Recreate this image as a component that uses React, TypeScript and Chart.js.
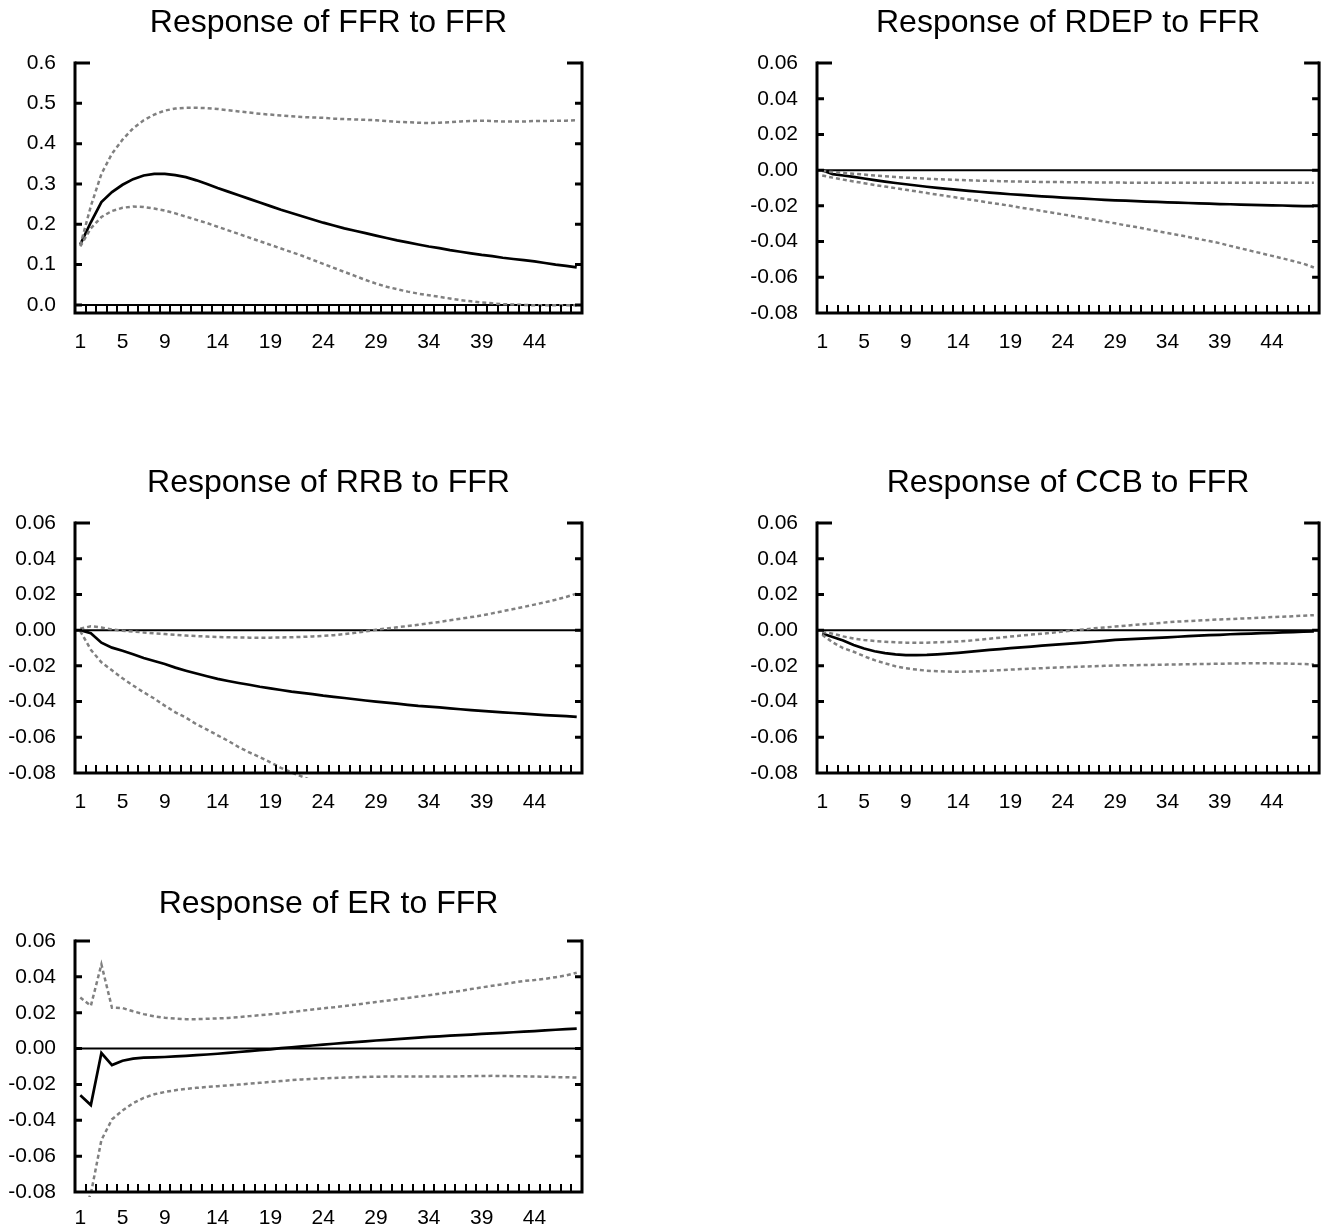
import React, { useEffect, useRef } from 'react';
import { Chart, registerables } from 'chart.js';

Chart.register(...registerables);

// ---------- data ----------
const periodLabels = [
  '1', '2', '3', '4', '5', '6', '7', '8', '9', '10', '11', '12', '13', '14', '15', '16',
  '17', '18', '19', '20', '21', '22', '23', '24', '25', '26', '27', '28', '29', '30', '31', '32',
  '33', '34', '35', '36', '37', '38', '39', '40', '41', '42', '43', '44', '45', '46', '47', '48',
];
const shownPeriods = ['1', '5', '9', '14', '19', '24', '29', '34', '39', '44'];

const ffrTicks = [0, 0.1, 0.2, 0.3, 0.4, 0.5, 0.6];
const smallTicks = [-0.08, -0.06, -0.04, -0.02, 0, 0.02, 0.04, 0.06];

const ffrResp = [
  0.150, 0.205, 0.255, 0.280, 0.298, 0.312, 0.321, 0.325, 0.325, 0.322,
  0.317, 0.309, 0.300, 0.290, 0.281, 0.272, 0.263, 0.254, 0.245, 0.236,
  0.228, 0.220, 0.212, 0.204, 0.197, 0.190, 0.184, 0.178, 0.172, 0.166,
  0.160, 0.155, 0.150, 0.145, 0.141, 0.136, 0.132, 0.128, 0.124, 0.121,
  0.117, 0.114, 0.111, 0.108, 0.104, 0.100, 0.097, 0.093,
];
const ffrUpper = [
  0.148, 0.245, 0.325, 0.375, 0.410, 0.438, 0.458, 0.472, 0.482, 0.487,
  0.489, 0.489, 0.488, 0.486, 0.483, 0.480, 0.477, 0.474, 0.472, 0.470,
  0.468, 0.466, 0.465, 0.464, 0.462, 0.461, 0.460, 0.459, 0.458, 0.456,
  0.454, 0.453, 0.452, 0.451, 0.452, 0.453, 0.455, 0.456, 0.457, 0.456,
  0.455, 0.455, 0.455, 0.456, 0.456, 0.457, 0.457, 0.458,
];
const ffrLower = [
  0.145, 0.190, 0.218, 0.233, 0.241, 0.244, 0.243, 0.239, 0.234, 0.227,
  0.219, 0.211, 0.203, 0.194, 0.185, 0.176, 0.167, 0.158, 0.149, 0.140,
  0.131, 0.122, 0.112, 0.102, 0.092, 0.082, 0.072, 0.062, 0.053, 0.045,
  0.039, 0.033, 0.028, 0.024, 0.020, 0.016, 0.012, 0.009, 0.006, 0.004,
  0.002, 0.001, 0.000, -0.001, -0.001, -0.001, -0.001, -0.001,
];

const rdepResp = [
  0.0000, -0.0022, -0.0030, -0.0038, -0.0047, -0.0056, -0.0064, -0.0072, -0.0079, -0.0086,
  -0.0093, -0.0099, -0.0105, -0.0111, -0.0116, -0.0121, -0.0126, -0.0130, -0.0135, -0.0139,
  -0.0143, -0.0147, -0.0150, -0.0154, -0.0157, -0.0160, -0.0163, -0.0166, -0.0169, -0.0171,
  -0.0174, -0.0176, -0.0178, -0.0180, -0.0182, -0.0184, -0.0186, -0.0188, -0.0190, -0.0191,
  -0.0193, -0.0194, -0.0196, -0.0197, -0.0198, -0.0200, -0.0201, -0.0202,
];
const rdepUpper = [
  -0.0005, -0.0010, -0.0015, -0.0020, -0.0025, -0.0030, -0.0034, -0.0038, -0.0042, -0.0045,
  -0.0048, -0.0051, -0.0053, -0.0055, -0.0057, -0.0059, -0.0060, -0.0062, -0.0063, -0.0064,
  -0.0065, -0.0066, -0.0067, -0.0067, -0.0068, -0.0068, -0.0069, -0.0069, -0.0069, -0.0070,
  -0.0070, -0.0070, -0.0070, -0.0070, -0.0071, -0.0071, -0.0071, -0.0071, -0.0071, -0.0071,
  -0.0071, -0.0071, -0.0071, -0.0071, -0.0071, -0.0071, -0.0071, -0.0071,
];
const rdepLower = [
  -0.0030, -0.0042, -0.0053, -0.0063, -0.0073, -0.0083, -0.0092, -0.0101, -0.0110, -0.0119,
  -0.0128, -0.0137, -0.0146, -0.0155, -0.0164, -0.0173, -0.0182, -0.0191, -0.0200, -0.0210,
  -0.0219, -0.0229, -0.0238, -0.0248, -0.0258, -0.0268, -0.0278, -0.0288, -0.0298, -0.0309,
  -0.0319, -0.0330, -0.0341, -0.0352, -0.0363, -0.0374, -0.0386, -0.0397, -0.0409, -0.0424,
  -0.0438, -0.0452, -0.0466, -0.0480, -0.0494, -0.0509, -0.0524, -0.0545,
];

const rrbResp = [
  0.0000, -0.0017, -0.0070, -0.0098, -0.0115, -0.0135, -0.0156, -0.0173, -0.0190, -0.0210,
  -0.0227, -0.0243, -0.0258, -0.0273, -0.0285, -0.0296, -0.0306, -0.0317, -0.0326, -0.0335,
  -0.0344, -0.0351, -0.0358, -0.0367, -0.0374, -0.0380, -0.0387, -0.0394, -0.0400, -0.0406,
  -0.0412, -0.0418, -0.0424, -0.0428, -0.0433, -0.0438, -0.0443, -0.0448, -0.0452, -0.0456,
  -0.0460, -0.0464, -0.0468, -0.0472, -0.0476, -0.0479, -0.0482, -0.0486,
];
const rrbUpper = [
  0.0008, 0.0022, 0.0015, 0.0004, -0.0003, -0.0008, -0.0013, -0.0018, -0.0022, -0.0026,
  -0.0030, -0.0033, -0.0036, -0.0038, -0.0040, -0.0041, -0.0042, -0.0042, -0.0042, -0.0041,
  -0.0040, -0.0038, -0.0035, -0.0032, -0.0028, -0.0022, -0.0015, -0.0007, 0.0002, 0.0009,
  0.0016, 0.0023, 0.0030, 0.0038, 0.0046, 0.0055, 0.0064, 0.0073, 0.0082, 0.0094,
  0.0106, 0.0118, 0.0130, 0.0143, 0.0156, 0.0170, 0.0186, 0.0205,
];
const rrbLower = [
  -0.0005, -0.0110, -0.0180, -0.0225, -0.0270, -0.0310, -0.0348, -0.0383, -0.0423, -0.0460,
  -0.0490, -0.0527, -0.0557, -0.0589, -0.0620, -0.0655, -0.0685, -0.0711, -0.0740, -0.0771,
  -0.0797, -0.0820, -0.0845, -0.0868, -0.0893, -0.0915, -0.0940, -0.0962, -0.0985, -0.1006,
  -0.1028, -0.1049, -0.1070, -0.1090, -0.1111, -0.1130, -0.1150, -0.1169, -0.1188, -0.1206,
  -0.1225, -0.1243, -0.1260, -0.1278, -0.1295, -0.1312, -0.1329, -0.1345,
];

const ccbResp = [
  -0.0019, -0.0038, -0.0058, -0.0083, -0.0103, -0.0118, -0.0129, -0.0136, -0.0140, -0.0140,
  -0.0139, -0.0136, -0.0132, -0.0127, -0.0122, -0.0116, -0.0111, -0.0106, -0.0101, -0.0097,
  -0.0092, -0.0087, -0.0082, -0.0078, -0.0074, -0.0070, -0.0065, -0.0060, -0.0055, -0.0052,
  -0.0049, -0.0046, -0.0043, -0.0040, -0.0037, -0.0034, -0.0031, -0.0028, -0.0026, -0.0023,
  -0.0021, -0.0019, -0.0017, -0.0015, -0.0013, -0.0011, -0.0009, -0.0007,
];
const ccbUpper = [
  -0.0010, -0.0020, -0.0035, -0.0047, -0.0055, -0.0061, -0.0065, -0.0068, -0.0070, -0.0071,
  -0.0070, -0.0068, -0.0066, -0.0063, -0.0059, -0.0054, -0.0048, -0.0042, -0.0036, -0.0030,
  -0.0025, -0.0020, -0.0014, -0.0008, -0.0002, 0.0004, 0.0010, 0.0015, 0.0020, 0.0025,
  0.0030, 0.0035, 0.0039, 0.0044, 0.0048, 0.0051, 0.0054, 0.0057, 0.0060, 0.0062,
  0.0065, 0.0067, 0.0070, 0.0073, 0.0075, 0.0078, 0.0081, 0.0084,
];
const ccbLower = [
  -0.0026, -0.0068, -0.0101, -0.0121, -0.0146, -0.0168, -0.0186, -0.0202, -0.0214, -0.0221,
  -0.0227, -0.0230, -0.0232, -0.0233, -0.0232, -0.0230, -0.0227, -0.0224, -0.0221, -0.0218,
  -0.0215, -0.0213, -0.0210, -0.0208, -0.0206, -0.0204, -0.0202, -0.0200, -0.0198, -0.0197,
  -0.0196, -0.0195, -0.0194, -0.0193, -0.0192, -0.0191, -0.0190, -0.0189, -0.0188, -0.0187,
  -0.0186, -0.0186, -0.0186, -0.0186, -0.0187, -0.0188, -0.0190, -0.0192,
];

const erResp = [
  -0.0260, -0.0315, -0.0025, -0.0092, -0.0068, -0.0056, -0.0051, -0.0049, -0.0047, -0.0044,
  -0.0041, -0.0037, -0.0033, -0.0029, -0.0024, -0.0019, -0.0014, -0.0009, -0.0004, 0.0002,
  0.0007, 0.0012, 0.0017, 0.0022, 0.0027, 0.0032, 0.0036, 0.0040, 0.0045, 0.0049,
  0.0053, 0.0057, 0.0061, 0.0065, 0.0068, 0.0072, 0.0075, 0.0078, 0.0082, 0.0085,
  0.0088, 0.0091, 0.0094, 0.0097, 0.0101, 0.0105, 0.0108, 0.0111,
];
const erUpper = [
  0.0285, 0.0238, 0.0470, 0.0228, 0.0226, 0.0208, 0.0192, 0.0180, 0.0172, 0.0167,
  0.0164, 0.0164, 0.0166, 0.0168, 0.0171, 0.0175, 0.0181, 0.0186, 0.0191, 0.0197,
  0.0204, 0.0211, 0.0218, 0.0225, 0.0230, 0.0237, 0.0245, 0.0252, 0.0260, 0.0267,
  0.0275, 0.0282, 0.0290, 0.0298, 0.0306, 0.0314, 0.0322, 0.0332, 0.0341, 0.0350,
  0.0359, 0.0368, 0.0377, 0.0382, 0.0389, 0.0398, 0.0408, 0.0423,
];
const erLower = [
  -0.0950, -0.0810, -0.0510, -0.0395, -0.0345, -0.0305, -0.0275, -0.0255, -0.0242, -0.0232,
  -0.0225, -0.0219, -0.0214, -0.0210, -0.0205, -0.0201, -0.0196, -0.0191, -0.0186, -0.0181,
  -0.0176, -0.0172, -0.0169, -0.0166, -0.0164, -0.0162, -0.0160, -0.0158, -0.0157, -0.0156,
  -0.0156, -0.0156, -0.0156, -0.0156, -0.0156, -0.0156, -0.0155, -0.0154, -0.0153, -0.0152,
  -0.0153, -0.0154, -0.0155, -0.0156, -0.0157, -0.0159, -0.0160, -0.0162,
];

const titles = [
  'Response of FFR to FFR',
  'Response of RDEP to FFR',
  'Response of RRB to FFR',
  'Response of CCB to FFR',
  'Response of ER to FFR',
];

// ---------- layout / styles ----------
const FONT = "'Liberation Sans', Arial, Helvetica, sans-serif";
const DASH_COLOR = '#808080';
const TITLE_SIZE = 32;
const TICK_SIZE = 21;

type Geo = {
  box: { left: number; top: number; width: number; height: number };
  plot: { left: number; right: number; top: number; bottom: number };
  titleY: number;
  xLabelPad: number;
};

const panels = [
  { title: titles[0], resp: ffrResp, upper: ffrUpper, lower: ffrLower, yMin: -0.02, yMax: 0.6, ticks: ffrTicks, dec: 1,
    geo: { box: { left: 0, top: 0, width: 665, height: 400 }, plot: { left: 75, right: 582, top: 63, bottom: 313 }, titleY: 23, xLabelPad: 17 } },
  { title: titles[1], resp: rdepResp, upper: rdepUpper, lower: rdepLower, yMin: -0.08, yMax: 0.06, ticks: smallTicks, dec: 2,
    geo: { box: { left: 665, top: 0, width: 666, height: 400 }, plot: { left: 817, right: 1326, top: 63, bottom: 313 }, titleY: 23, xLabelPad: 17 } },
  { title: titles[2], resp: rrbResp, upper: rrbUpper, lower: rrbLower, yMin: -0.08, yMax: 0.06, ticks: smallTicks, dec: 2,
    geo: { box: { left: 0, top: 440, width: 665, height: 420 }, plot: { left: 75, right: 582, top: 523, bottom: 773 }, titleY: 483, xLabelPad: 17 } },
  { title: titles[3], resp: ccbResp, upper: ccbUpper, lower: ccbLower, yMin: -0.08, yMax: 0.06, ticks: smallTicks, dec: 2,
    geo: { box: { left: 665, top: 440, width: 666, height: 420 }, plot: { left: 817, right: 1326, top: 523, bottom: 773 }, titleY: 483, xLabelPad: 17 } },
  { title: titles[4], resp: erResp, upper: erUpper, lower: erLower, yMin: -0.08, yMax: 0.06, ticks: smallTicks, dec: 2,
    geo: { box: { left: 0, top: 870, width: 665, height: 361 }, plot: { left: 75, right: 582, top: 941, bottom: 1192 }, titleY: 904, xLabelPad: 14 } },
];

const fmt = (v: number, dec: number) => (Math.abs(v) < 1e-9 ? 0 : v).toFixed(dec);

const framePlugin = {
  id: 'eviewsFrame',
  beforeDatasetsDraw(chart: any) {
    const { ctx, chartArea } = chart;
    const y = chart.scales.y;
    const y0 = y.getPixelForValue(0);
    ctx.save();
    ctx.strokeStyle = '#000';
    ctx.lineWidth = 2;
    ctx.beginPath();
    ctx.moveTo(chartArea.left, y0);
    ctx.lineTo(chartArea.right, y0);
    ctx.stroke();
    ctx.restore();
  },
  afterDatasetsDraw(chart: any) {
    const { ctx, chartArea } = chart;
    const { left, right, top, bottom } = chartArea;
    const x = chart.scales.x;
    const y = chart.scales.y;
    ctx.save();
    ctx.strokeStyle = '#000';
    ctx.lineCap = 'butt';
    ctx.lineWidth = 3;
    ctx.beginPath();
    ctx.moveTo(left, top - 1.5);
    ctx.lineTo(left, bottom + 1.5);
    ctx.moveTo(right, top - 1.5);
    ctx.lineTo(right, bottom + 1.5);
    ctx.moveTo(left - 1.5, bottom);
    ctx.lineTo(right + 1.5, bottom);
    ctx.stroke();
    // y ticks (inward)
    ctx.beginPath();
    y.ticks.forEach((t: any) => {
      const py = y.getPixelForValue(t.value);
      if (py > bottom - 2) return;
      const len = Math.abs(py - top) < 1 ? 15 : 7;
      ctx.moveTo(left, py);
      ctx.lineTo(left + len, py);
      ctx.moveTo(right, py);
      ctx.lineTo(right - len, py);
    });
    ctx.stroke();
    // x minor ticks between periods
    ctx.lineWidth = 2;
    ctx.beginPath();
    const n = chart.data.labels.length;
    for (let i = 0; i < n - 1; i++) {
      const px = Math.round((x.getPixelForValue(i) + x.getPixelForValue(i + 1)) / 2);
      ctx.moveTo(px, bottom);
      ctx.lineTo(px, bottom - 8);
    }
    ctx.stroke();
    ctx.restore();
  },
};

function Panel({ p }: { p: (typeof panels)[number] }) {
  const ref = useRef<HTMLCanvasElement>(null);
  const g: Geo = p.geo;
  useEffect(() => {
    const lh = TITLE_SIZE * 1.2;
    const padTop = g.titleY - g.box.top - lh / 2;
    const padBottom = g.plot.top - g.box.top - padTop - lh;
    const clip = { left: 2, top: 2, right: 2, bottom: 5 };
    const chart = new Chart(ref.current as HTMLCanvasElement, {
      type: 'line',
      data: {
        labels: periodLabels,
        datasets: [
          { data: p.upper, borderColor: DASH_COLOR, borderWidth: 2.5, borderDash: [4, 3], pointRadius: 0, tension: 0, fill: false, clip },
          { data: p.lower, borderColor: DASH_COLOR, borderWidth: 2.5, borderDash: [4, 3], pointRadius: 0, tension: 0, fill: false, clip },
          { data: p.resp, borderColor: '#000', borderWidth: 2.7, pointRadius: 0, tension: 0, fill: false, clip },
        ],
      },
      options: {
        responsive: true,
        maintainAspectRatio: false,
        animation: false,
        events: [],
        layout: {
          padding: { left: 0, top: 0, bottom: 0, right: g.box.left + g.box.width - g.plot.right },
        },
        plugins: {
          legend: { display: false },
          tooltip: { enabled: false },
          title: {
            display: true,
            text: p.title,
            fullSize: false,
            color: '#000',
            font: { size: TITLE_SIZE, weight: 'normal', family: FONT },
            padding: { top: padTop, bottom: padBottom },
          },
        },
        scales: {
          x: {
            type: 'category',
            offset: true,
            grid: { display: false, drawTicks: false, offset: true },
            border: { display: false },
            ticks: {
              autoSkip: false,
              maxRotation: 0,
              minRotation: 0,
              padding: g.xLabelPad,
              color: '#000',
              font: { size: TICK_SIZE, family: FONT },
              callback: (_v: any, i: number) => (shownPeriods.includes(periodLabels[i]) ? periodLabels[i] : ''),
            },
            afterFit: (s: any) => {
              s.height = g.box.top + g.box.height - g.plot.bottom;
            },
          },
          y: {
            type: 'linear',
            min: p.yMin,
            max: p.yMax,
            grid: { display: false, drawTicks: false },
            border: { display: false },
            ticks: {
              padding: 19,
              color: '#000',
              font: { size: TICK_SIZE, family: FONT },
              callback: (v: any) => fmt(Number(v), p.dec),
            },
            afterBuildTicks: (s: any) => {
              s.ticks = p.ticks.map((v: number) => ({ value: v }));
            },
            afterFit: (s: any) => {
              s.width = g.plot.left - g.box.left;
            },
          },
        },
      } as any,
      plugins: [framePlugin],
    });
    return () => chart.destroy();
  }, [p]);
  return (
    <div style={{ position: 'absolute', left: g.box.left, top: g.box.top, width: g.box.width, height: g.box.height }}>
      <canvas ref={ref} />
    </div>
  );
}

export default function App() {
  return (
    <div style={{ position: 'absolute', left: 0, top: 0, width: 1331, height: 1231, background: '#fff', overflow: 'hidden' }}>
      {panels.map((p) => (
        <Panel key={p.title} p={p} />
      ))}
    </div>
  );
}
